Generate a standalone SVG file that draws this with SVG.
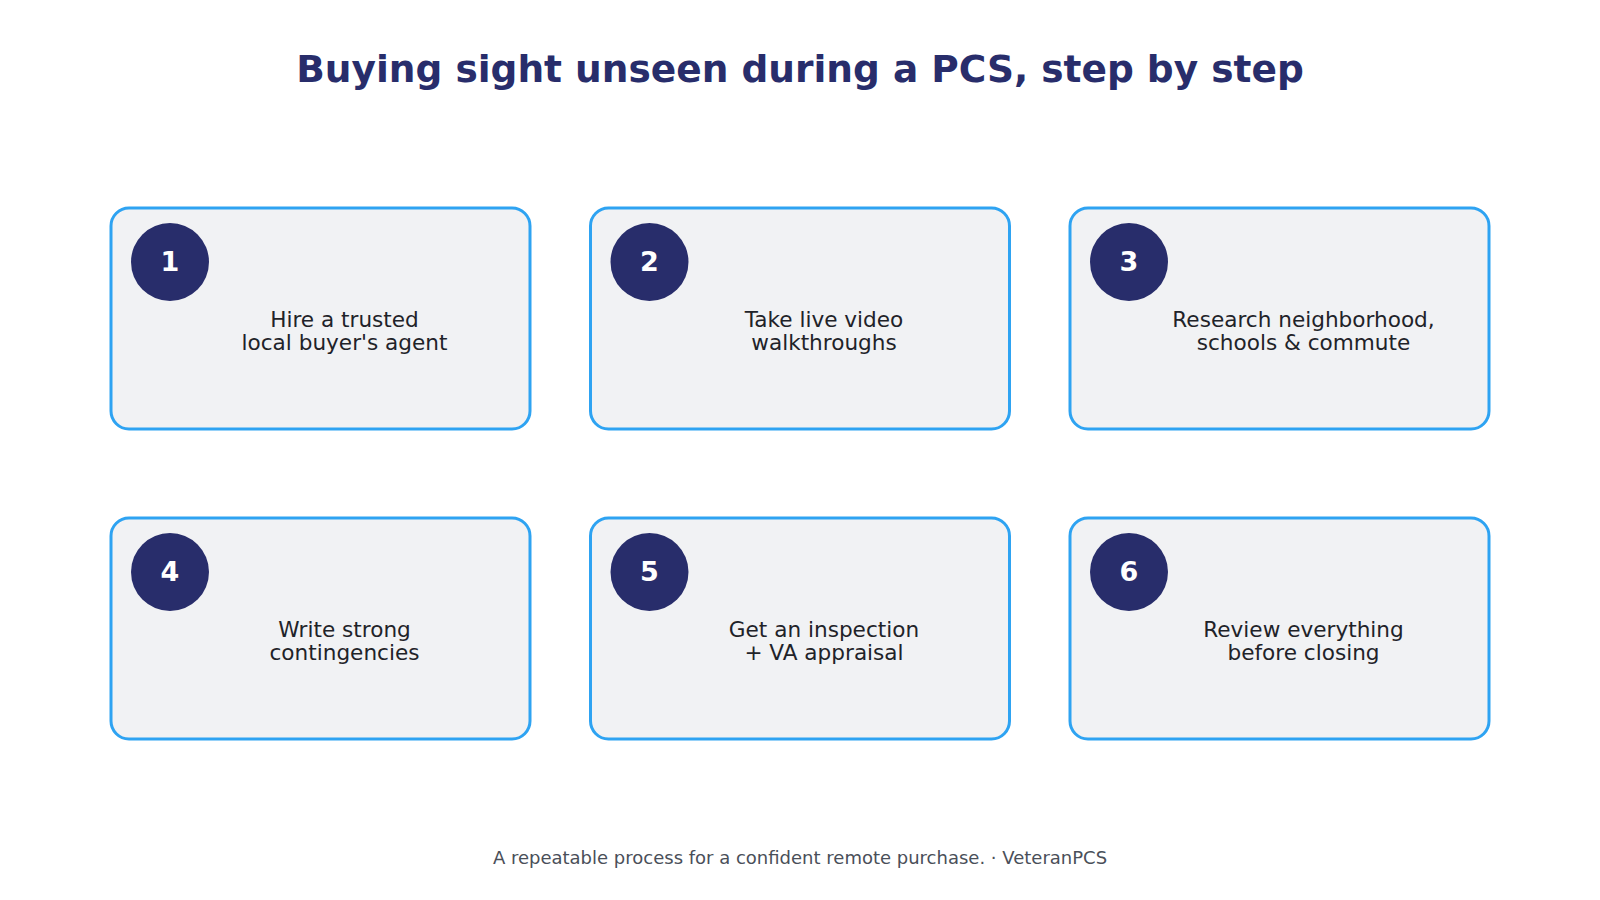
<svg xmlns="http://www.w3.org/2000/svg" width="1600" height="900" viewBox="0 0 1600 900">
<style>
.card{fill:#f1f2f4;stroke:#2ea3f2;stroke-width:3}
.badge{fill:#282d6b}
.num{font-family:"DejaVu Sans",sans-serif;font-weight:bold;font-size:27px;fill:#ffffff;text-anchor:middle}
.lbl{font-family:"DejaVu Sans",sans-serif;font-size:21.6px;fill:#1f2329;text-anchor:middle}
.title{font-family:"DejaVu Sans",sans-serif;font-weight:bold;font-size:37.5px;fill:#282d6b;text-anchor:middle}
.foot{font-family:"DejaVu Sans",sans-serif;font-size:18px;fill:#4a4f59;text-anchor:middle}
</style>
<rect width="1600" height="900" fill="#ffffff"/>
<text class="title" x="800" y="82">Buying sight unseen during a PCS, step by step</text>
<g id="connectors"></g>
<g id="step1">
<rect class="card" x="111" y="208" width="419" height="221" rx="18"/>
<circle class="badge" cx="170" cy="262" r="39"/>
<text class="num" x="170" y="270.5">1</text>
<text class="lbl" x="344.5" y="327">Hire a trusted</text>
<text class="lbl" x="344.5" y="350">local buyer's agent</text>
</g>
<g id="step2">
<rect class="card" x="590.5" y="208" width="419" height="221" rx="18"/>
<circle class="badge" cx="649.5" cy="262" r="39"/>
<text class="num" x="649.5" y="270.5">2</text>
<text class="lbl" x="824" y="327">Take live video</text>
<text class="lbl" x="824" y="350">walkthroughs</text>
</g>
<g id="step3">
<rect class="card" x="1070" y="208" width="419" height="221" rx="18"/>
<circle class="badge" cx="1129" cy="262" r="39"/>
<text class="num" x="1129" y="270.5">3</text>
<text class="lbl" x="1303.5" y="327">Research neighborhood,</text>
<text class="lbl" x="1303.5" y="350">schools &amp; commute</text>
</g>
<g id="step4">
<rect class="card" x="111" y="518" width="419" height="221" rx="18"/>
<circle class="badge" cx="170" cy="572" r="39"/>
<text class="num" x="170" y="580.5">4</text>
<text class="lbl" x="344.5" y="637">Write strong</text>
<text class="lbl" x="344.5" y="660">contingencies</text>
</g>
<g id="step5">
<rect class="card" x="590.5" y="518" width="419" height="221" rx="18"/>
<circle class="badge" cx="649.5" cy="572" r="39"/>
<text class="num" x="649.5" y="580.5">5</text>
<text class="lbl" x="824" y="637">Get an inspection</text>
<text class="lbl" x="824" y="660">+ VA appraisal</text>
</g>
<g id="step6">
<rect class="card" x="1070" y="518" width="419" height="221" rx="18"/>
<circle class="badge" cx="1129" cy="572" r="39"/>
<text class="num" x="1129" y="580.5">6</text>
<text class="lbl" x="1303.5" y="637">Review everything</text>
<text class="lbl" x="1303.5" y="660">before closing</text>
</g>
<text class="foot" x="800" y="864">A repeatable process for a confident remote purchase. · VeteranPCS</text>
</svg>
